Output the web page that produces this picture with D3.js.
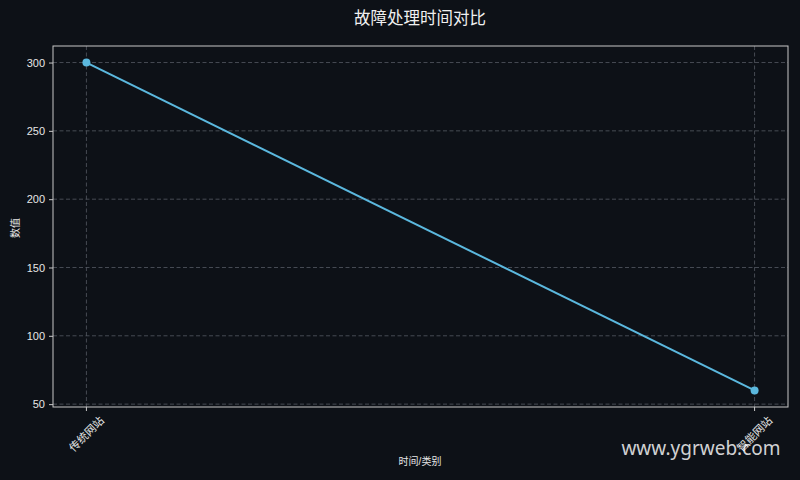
<!DOCTYPE html>
<html><head><meta charset="utf-8">
<script src="https://cdn.jsdelivr.net/npm/d3@7"></script>
<style>body{margin:0;background:#0d1117;}svg{display:block;}</style>
</head><body>
<svg id="c" width="800" height="480"></svg>
<script>
const categories = ["传统网站", "智能网站"];
const values = [300, 60];
const yTicks = [50, 100, 150, 200, 250, 300];
const title = "故障处理时间对比";
const xLabel = "时间/类别";
const yLabel = "数值";
const font = "'Liberation Sans','Noto Sans CJK SC',sans-serif";

const svg = d3.select("#c");
svg.append("rect").attr("width",800).attr("height",480).attr("fill","#0d1117");
const L=53,R=788,T=46,B=407;
const xs = d3.scaleLinear().domain([-0.05,1.05]).range([L,R]);
const xp = c => xs(categories.indexOf(c));
const y = d3.scaleLinear().domain([47.9,312.1]).range([B,T]);

const g = svg.append("g");
// grid
g.selectAll(".gy").data(yTicks).join("line")
 .attr("x1",L).attr("x2",R).attr("y1",d=>y(d)).attr("y2",d=>y(d))
 .attr("stroke","#555b63").attr("stroke-width",0.8).attr("stroke-dasharray","4,2.5");
g.selectAll(".gx").data(categories).join("line")
 .attr("x1",d=>xp(d)).attr("x2",d=>xp(d)).attr("y1",T).attr("y2",B)
 .attr("stroke","#555b63").attr("stroke-width",0.8).attr("stroke-dasharray","4,2.5");
// frame
g.append("rect").attr("x",L).attr("y",T).attr("width",R-L).attr("height",B-T)
 .attr("fill","none").attr("stroke","#c8c8c8").attr("stroke-width",1);
// y ticks
const ya = svg.append("g").attr("transform",`translate(${L},0)`)
 .call(d3.axisLeft(y).tickValues(yTicks).tickSize(4).tickPadding(4));
ya.select(".domain").remove();
ya.selectAll("line").attr("stroke","#c8c8c8");
ya.selectAll("text").attr("fill","#e6e6e6").attr("font-size",11).attr("font-family",font);
// x ticks
const xa = svg.append("g").attr("transform",`translate(0,${B})`);
xa.selectAll("line").data(categories).join("line")
 .attr("x1",d=>xp(d)).attr("x2",d=>xp(d)).attr("y1",0).attr("y2",4).attr("stroke","#c8c8c8");
xa.selectAll("text").data(categories).join("text")
 .attr("transform",d=>`translate(${xp(d)},27) rotate(-45)`)
 .attr("text-anchor","middle").attr("dominant-baseline","central")
 .attr("fill","#e6e6e6").attr("font-size",11).attr("font-family",font).text(d=>d);
// line
const line = d3.line().x(d=>xp(d.c)).y(d=>y(d.v));
const pts = categories.map((c,i)=>({c,v:values[i]}));
g.append("path").datum(pts).attr("d",line).attr("fill","none")
 .attr("stroke","#5bb8de").attr("stroke-width",2);
g.selectAll(".pt").data(pts).join("circle").attr("cx",d=>xp(d.c)).attr("cy",d=>y(d.v))
 .attr("r",4).attr("fill","#5bb8de");
// labels
svg.append("text").attr("x",420).attr("y",24).attr("text-anchor","middle")
 .attr("fill","#f0f0f0").attr("font-size",16.5).attr("font-family",font).text(title);
svg.append("text").attr("x",420).attr("y",465).attr("text-anchor","middle")
 .attr("fill","#e6e6e6").attr("font-size",10).attr("font-family",font).text(xLabel);
svg.append("text").attr("transform","translate(19,228) rotate(-90)").attr("text-anchor","middle")
 .attr("fill","#e6e6e6").attr("font-size",10).attr("font-family",font).text(yLabel);
// watermark
svg.append("text").attr("x",701).attr("y",455).attr("text-anchor","middle")
 .attr("fill","#ffffff").attr("fill-opacity",0.82).attr("font-size",19)
 .attr("font-family","'Noto Sans','DejaVu Sans',sans-serif").text("www.ygrweb.com");
</script>
</body></html>
